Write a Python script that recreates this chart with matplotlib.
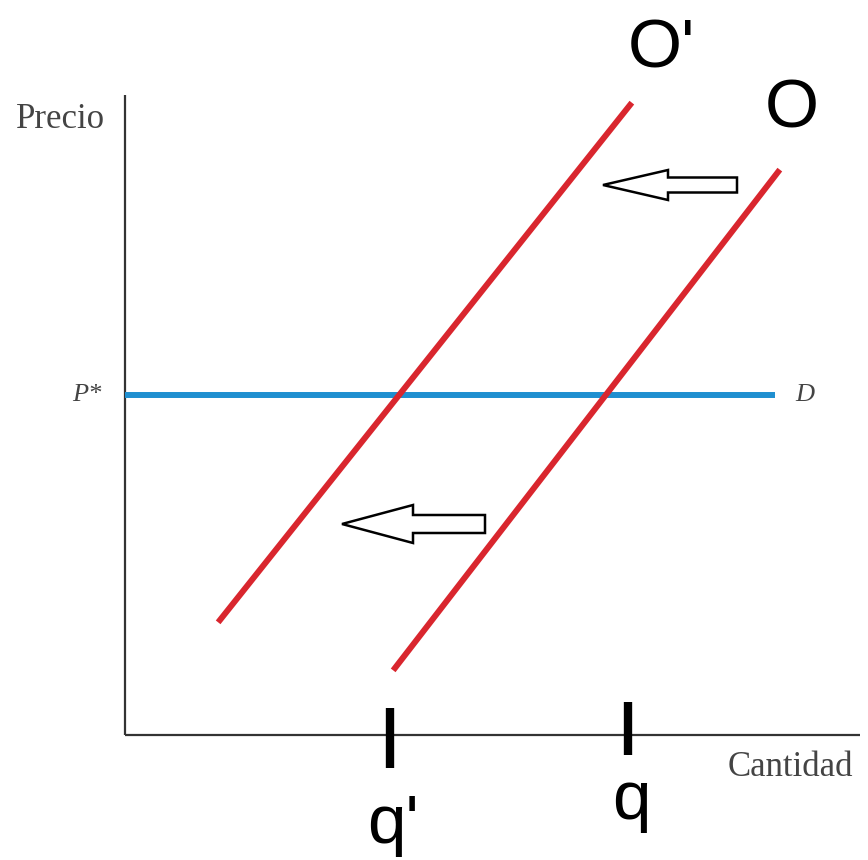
"""
Desplazamiento de la oferta (O -> O') con demanda horizontal en P*.
"""
import matplotlib
matplotlib.use("Agg")
import matplotlib.pyplot as plt
import matplotlib.patches as mpatches

# ------------------------------------------------------------------
# datos (unidades del gráfico: origen en el vértice de los ejes)
# ------------------------------------------------------------------
oferta_q = [270, 653]           # curva O
oferta_p = [67, 563]
oferta_nueva_q = [95, 505]      # curva O'
oferta_nueva_p = [115, 630]
precio_estrella = 340           # P*
demanda_q = [0, 650]            # D
cantidades = [265, 503]         # q', q
etiquetas_q = ["q'", "q"]

ROJO = "#d9262e"
AZUL = "#1f8fd0"
GRIS = "#444444"
SANS = "Liberation Sans"

fig = plt.figure(figsize=(8.68, 8.60), dpi=100)
ax = fig.add_axes([0, 0, 1, 1])
ax.set_xlim(-125, 743)
ax.set_ylim(-125, 735)
ax.axis("off")

# ejes
ax.plot([0, 0], [0, 640], color="#333333", lw=1.6, solid_capstyle="butt")
ax.plot([0, 735], [0, 0], color="#333333", lw=1.6, solid_capstyle="butt")
ax.text(-64, 615, "Precio", family="Liberation Serif", fontsize=25,
        color=GRIS, ha="center", va="center")
ax.text(665, -33, "Cantidad", family="Liberation Serif", fontsize=25,
        color=GRIS, ha="center", va="center")

# demanda
ax.plot(demanda_q, [precio_estrella] * 2, color=AZUL, lw=4.3, solid_capstyle="butt")
ax.text(-23, precio_estrella, "P*", family="Liberation Serif", style="italic",
        fontsize=19, color=GRIS, ha="right", va="center")
ax.text(670, precio_estrella, "D", family="Liberation Serif", style="italic",
        fontsize=19, color=GRIS, ha="left", va="center")

# ofertas
ax.plot(oferta_q, oferta_p, color=ROJO, lw=4.3)
ax.plot(oferta_nueva_q, oferta_nueva_p, color=ROJO, lw=4.3)
ax.text(oferta_nueva_q[1] + 31, 686, "O'", family=SANS,
        fontsize=50, ha="center", va="center")
ax.text(oferta_q[1] + 14, 626, "O", family=SANS,
        fontsize=50, ha="center", va="center")

# marcas de cantidad
ax.plot([cantidades[0]] * 2, [-33, 27], color="black", lw=6, solid_capstyle="butt")
ax.plot([cantidades[1]] * 2, [-20, 33], color="black", lw=6, solid_capstyle="butt")
ax.text(cantidades[0] + 3, -90, etiquetas_q[0], family=SANS,
        fontsize=50, ha="center", va="center")
ax.text(cantidades[1] + 3, -66, etiquetas_q[1], family=SANS,
        fontsize=50, ha="center", va="center")

# flechas huecas (desplazamiento a la izquierda)
for x0, y0, largo, ancho, cabeza_a, cabeza_l in [(612, 550, 134, 15, 30, 65),
                                                 (360, 211, 143, 18, 38, 71)]:
    ax.add_patch(mpatches.FancyArrow(x0, y0, -largo, 0, width=ancho,
                                     head_width=cabeza_a, head_length=cabeza_l,
                                     length_includes_head=True,
                                     facecolor="white", edgecolor="black", lw=1.8))

fig.savefig("out.png", dpi=100)
